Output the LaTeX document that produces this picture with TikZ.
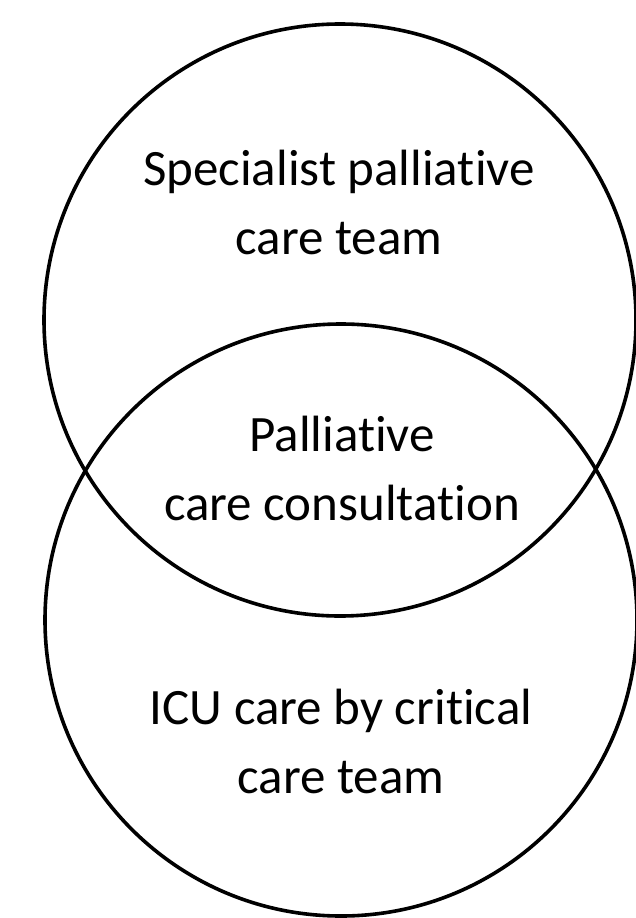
\documentclass[tikz,border=0pt]{standalone}
\usepackage{fontspec}
\setmainfont[Ligatures={NoCommon}]{Carlito}
\begin{document}
\begin{tikzpicture}[x=1pt,y=-1pt,
  ring/.style={draw=black,line width=3.6pt,circle,minimum size=592pt,inner sep=0pt},
  lbl/.style={align=center,font=\fontsize{51}{69}\selectfont}]
\useasboundingbox (0,0) rectangle (636,918);
\node[ring] (top) at (340,320) {};
\node[ring] (bot) at (341,620) {};
\node[lbl] (t1) at (339,202) {Specialist palliative\\care team};
\node[lbl] (t2) at (342,468) {Palliative\\care consultation};
\node[lbl] (t3) at (341,741) {ICU care by critical\\care team};
\end{tikzpicture}
\end{document}
